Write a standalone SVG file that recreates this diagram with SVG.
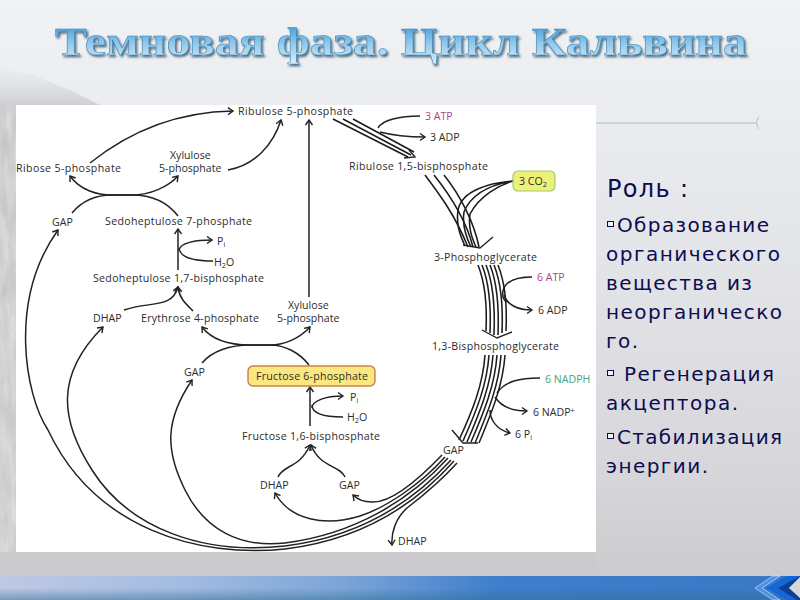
<svg xmlns="http://www.w3.org/2000/svg" width="800" height="600" viewBox="0 0 800 600">
<style>
.l{font-family:"Open Sans","Liberation Sans",Arial,sans-serif;font-size:10.6px;fill:#2c2c2c}
.c{fill:none;stroke:#222;stroke-width:1.5}
.a{marker-end:url(#ah)}
.m{fill:none;stroke:#1c1c1c;stroke-width:1.55}
.h{fill:none;stroke:#222;stroke-width:1.4}
.r{font-family:"DejaVu Sans",Verdana,sans-serif;font-size:20px;fill:#0c0c50}
.b{fill:#f2f2ee;stroke:#0c0c50;stroke-width:1}
</style>
<defs>
<linearGradient id="bg" x1="0" y1="0" x2="0" y2="1"><stop offset="0" stop-color="#f1f2f4"/><stop offset="0.45" stop-color="#e3e4e8"/><stop offset="0.8" stop-color="#d6d6da"/><stop offset="1" stop-color="#c9c9cb"/></linearGradient>
<linearGradient id="tt" x1="0" y1="0" x2="0" y2="1"><stop offset="0" stop-color="#2f92d6"/><stop offset="0.55" stop-color="#94caec"/><stop offset="1" stop-color="#dcecf7"/></linearGradient>
<linearGradient id="bar" x1="0" y1="0" x2="1" y2="0"><stop offset="0" stop-color="#c0c8e4"/><stop offset="0.22" stop-color="#a4bce2"/><stop offset="0.42" stop-color="#7ea6d8"/><stop offset="0.62" stop-color="#3f7ecc"/><stop offset="1" stop-color="#3a78c6"/></linearGradient>
<linearGradient id="barv" x1="0" y1="0" x2="0" y2="1"><stop offset="0.5" stop-color="#2f6f8f" stop-opacity="0"/><stop offset="1" stop-color="#2f6f8f" stop-opacity=".5"/></linearGradient>
<linearGradient id="mt" x1="0" y1="0" x2="0" y2="1"><stop offset="0" stop-color="#c9cbce" stop-opacity=".05"/><stop offset="1" stop-color="#b0b2b5" stop-opacity=".5"/></linearGradient>
<filter id="sh" x="-5%" y="-20%" width="110%" height="150%"><feDropShadow dx="1.5" dy="2" stdDeviation="1" flood-color="#2f5570" flood-opacity=".85"/></filter>
<filter id="mot" x="0" y="0" width="100%" height="100%"><feTurbulence type="fractalNoise" baseFrequency=".12 .03" numOctaves="3" seed="4"/><feColorMatrix values="0 0 0 0 .72 0 0 0 0 .72 0 0 0 0 .73 1.6 0 0 0 -.3"/></filter>
<marker id="ah" markerUnits="userSpaceOnUse" markerWidth="14" markerHeight="14" refX="7" refY="5" orient="auto"><path d="M2,1.5 L7,5 L2,8.5" fill="none" stroke="#222" stroke-width="1.4"/></marker>
</defs>
<g id="background">
<rect width="800" height="600" fill="url(#bg)"/>
<path d="M0,105 L0,68 L30,74 L70,90 L100,105Z" fill="url(#mt)"/>
<rect x="0" y="105" width="16" height="471" fill="#c6c6c8"/>
<rect x="0" y="105" width="16" height="471" filter="url(#mot)"/>
<rect y="552" width="596" height="24" fill="#cbcbcd"/>
<rect x="0" y="576" width="800" height="24" fill="url(#bar)"/>
<rect x="0" y="576" width="800" height="24" fill="url(#barv)"/>
<path d="M773,576 L755,588 L773,600 L780,600 L762,588 L780,576Z" fill="#4a90e8" stroke="#e4effa" stroke-width=".6"/>
<path d="M787,576 L766,588 L787,600 L798,600 L778,588 L800,576Z" fill="#1566d8"/>
<path d="M800,576 L778,588 L797,600 L800,600 L800,598 L789,588 L800,577Z" fill="#0d3f96"/>
<path d="M800,577 L789,588 L800,598Z" fill="#d5d7da"/>
<path d="M596,123 H757" stroke="#b7d1dd" stroke-width="1.5" fill="none"/>
<path d="M759,117 Q754,123 759,129" stroke="#b7d1dd" stroke-width="1.3" fill="none"/>
</g>
<text id="title" x="55" y="55" font-family="'Liberation Serif','Times New Roman',serif" font-weight="700" font-size="39" textLength="692" lengthAdjust="spacingAndGlyphs" fill="url(#tt)" stroke="#3c83b2" stroke-width=".5" filter="url(#sh)">Темновая фаза. Цикл Кальвина</text>
<rect id="panel" x="16" y="105" width="580" height="447" fill="#fff"/>
<g id="connectors">
<path class="c a" d="M90,163 C125,135 170,112 233,111"/>
<path class="c a" d="M228,170 C255,165 273,145 281,120"/>
<path class="c a" d="M72,213 C82,201 95,195 112,195 L132,195 C150,195 168,187 178,176"/>
<path class="c a" d="M178,216 C168,203 152,195 132,195 L112,195 C97,195 80,190 70,176"/>
<path class="c a" d="M178,270 V229"/>
<path class="c a" d="M179,250 C180,243 195,240 212,240"/>
<path class="c" d="M213,261 C195,261 180,258 179,248"/>
<path class="c a" d="M124,310 C150,301 172,309 178,287"/>
<path class="c a" d="M193,311 C186,304 179,298 178,287"/>
<path class="c a" d="M202,363 C212,351 230,345 250,345 L270,345 C285,345 300,338 310,327"/>
<path class="c a" d="M309,365 C300,353 285,345 270,345 L250,345 C230,345 212,340 202,327"/>
<path class="c a" d="M309,297 V120"/>
<path class="c a" d="M310,426 V387"/>
<path class="c a" d="M312,408 C312,401 325,396 343,396"/>
<path class="c" d="M343,417 C325,417 312,414 312,405"/>
<path class="c a" d="M278,477 C283,465 300,468 310,445"/>
<path class="c a" d="M345,477 C340,465 320,468 311,445"/>
<path class="c" d="M420,116 C400,116 382,120 378,128"/>
<path class="c a" d="M380,132 C395,136 410,137 425,137"/>
<path class="m" d="M333,119 L408,157 M343,119 L411,155 M353,119 L414,152"/>
<path class="h" d="M409,150 L415,157 L404,158"/>
<path class="m" d="M425,175 C440,195 455,215 468,247 M434,175 C450,195 466,220 473,247 M444,175 C460,195 474,222 479,247"/>
<path class="m" d="M513,181 C490,183 462,190 458,210 C456,225 460,235 465,246 M513,181 C495,184 472,192 464,212 C462,225 466,237 471,247 M513,181 C500,185 480,195 470,214 C468,228 472,238 476,247"/>
<path class="h" d="M463,245 L480,248 L493,237"/>
<path class="m" d="M478,265 C486,285 487,310 486,331 M482,265 C490,285 491,310 490,333 M486,265 C494,285 495,310 494,335 M490,265 C498,285 499,310 498,335 M494,265 C502,285 503,310 502,333 M498,265 C506,285 507,310 506,331"/>
<path class="h" d="M482,330 L497,338 L512,332"/>
<path class="c" d="M532,277 C515,277 505,282 503,291 C502,298 504,300 507,302"/>
<path class="c a" d="M504,295 C507,305 518,310 532,310"/>
<path class="m" d="M485,355 C483,385 472,412 459,440 M489,355 C487,385 476,412 463,441 M493,355 C491,385 480,412 467,442 M497,355 C495,385 484,412 471,442 M501,355 C499,385 488,412 475,443 M505,355 C503,385 492,412 479,443"/>
<path class="h" d="M452,430 L463,443 L478,443"/>
<path class="c" d="M540,378 C520,378 505,381 497,393"/>
<path class="c a" d="M495,397 C500,405 510,411 527,411"/>
<path class="c a" d="M490,410 C490,420 497,430 510,433"/>
<path class="c a" d="M442,455 C420,478 392,503 372,502 C365,502 358,500 353,495"/>
<path class="c a" d="M445,457 C420,485 385,508 360,516 C325,527 290,520 275,493"/>
<path class="c a" d="M457,463 C440,482 420,498 407,508 C396,518 391,532 392,545"/>
<path class="c a" d="M448,458 C410,500 355,534 285,543 C240,548 205,530 185,490 C165,450 165,420 192,380"/>
<path class="c a" d="M451,460 C412,503 358,537 285,546 C205,555 130,530 92,470 C60,420 55,375 103,327"/>
<path class="c a" d="M454,461 C415,505 360,540 285,549 C200,558 95,530 48,430 C25,395 8,300 58,230"/>
</g>
<g id="n-ribulose5p"><text class="l" x="238" y="115" textLength="115">Ribulose 5-phosphate</text></g>
<g id="n-3atp"><text class="l" x="425" y="120" style="fill:#b0408a">3 ATP</text></g>
<g id="n-3adp"><text class="l" x="430" y="141">3 ADP</text></g>
<g id="n-ribulose15"><text class="l" x="349" y="170" textLength="139">Ribulose 1,5-bisphosphate</text></g>
<g id="n-3co2"><rect x="513" y="171" width="42" height="20" rx="5" fill="#eef07a" stroke="#9ecb6a" stroke-width="1.2"/><text class="l" x="519" y="185">3 CO<tspan font-size="7.5" dy="2">2</tspan></text></g>
<g id="n-3pg"><text class="l" x="434" y="261" textLength="103">3-Phosphoglycerate</text></g>
<g id="n-6atp"><text class="l" x="537" y="281" style="fill:#b0408a">6 ATP</text></g>
<g id="n-6adp"><text class="l" x="538" y="314">6 ADP</text></g>
<g id="n-13bpg"><text class="l" x="432" y="350" textLength="127">1,3-Bisphosphoglycerate</text></g>
<g id="n-nadph"><text class="l" x="545" y="383" style="fill:#4aa080">6 NADPH</text></g>
<g id="n-nadp"><text class="l" x="533" y="416">6 NADP<tspan font-size="7" dy="-3">+</tspan></text></g>
<g id="n-6pi"><text class="l" x="515" y="438">6 P<tspan font-size="7" dy="2">i</tspan></text></g>
<g id="n-gap-main"><text class="l" x="443" y="454">GAP</text></g>
<g id="n-dhap-out"><text class="l" x="398" y="545">DHAP</text></g>
<g id="n-dhap-f"><text class="l" x="260" y="489">DHAP</text></g>
<g id="n-gap-f"><text class="l" x="339" y="489">GAP</text></g>
<g id="n-f16"><text class="l" x="242" y="440" textLength="138">Fructose 1,6-bisphosphate</text></g>
<g id="n-h2o-f"><text class="l" x="347" y="421">H<tspan font-size="7.5" dy="2">2</tspan><tspan dy="-2">O</tspan></text></g>
<g id="n-pi-f"><text class="l" x="350" y="401">P<tspan font-size="7" dy="2">i</tspan></text></g>
<g id="n-f6p"><rect x="248" y="366" width="127" height="20" rx="5" fill="#fbe77f" stroke="#c8824a" stroke-width="1.4"/><text class="l" x="256" y="380" textLength="112">Fructose 6-phosphate</text></g>
<g id="n-gap-e"><text class="l" x="184" y="376">GAP</text></g>
<g id="n-dhap-s"><text class="l" x="93" y="322">DHAP</text></g>
<g id="n-e4p"><text class="l" x="141" y="322" textLength="118">Erythrose 4-phosphate</text></g>
<g id="n-xu5p-2"><text class="l" x="288" y="309">Xylulose</text><text class="l" x="277" y="322">5-phosphate</text></g>
<g id="n-s17"><text class="l" x="93" y="282" textLength="171">Sedoheptulose 1,7-bisphosphate</text></g>
<g id="n-h2o-s"><text class="l" x="214" y="266">H<tspan font-size="7.5" dy="2">2</tspan><tspan dy="-2">O</tspan></text></g>
<g id="n-pi-s"><text class="l" x="217" y="245">P<tspan font-size="7" dy="2">i</tspan></text></g>
<g id="n-s7p"><text class="l" x="105" y="225" textLength="147">Sedoheptulose 7-phosphate</text></g>
<g id="n-gap-r"><text class="l" x="52" y="226">GAP</text></g>
<g id="n-r5p"><text class="l" x="16" y="172" textLength="105">Ribose 5-phosphate</text></g>
<g id="n-xu5p-1"><text class="l" x="170" y="159">Xylulose</text><text class="l" x="159" y="172">5-phosphate</text></g>
<g id="role">
<text class="r" x="607" y="197" style="font-size:24px" textLength="81">Роль :</text>
<rect class="b" x="607.5" y="221.5" width="6" height="5"/>
<text class="r" x="617" y="232" textLength="152">Образование</text>
<text class="r" x="606" y="261" textLength="174">органического</text>
<text class="r" x="606" y="290" textLength="146">вещества из</text>
<text class="r" x="606" y="319" textLength="176">неорганическо</text>
<text class="r" x="606" y="348" textLength="32">го.</text>
<rect class="b" x="607.5" y="370.5" width="6" height="5"/>
<text class="r" x="624" y="381" textLength="150">Регенерация</text>
<text class="r" x="606" y="410" textLength="132">акцептора.</text>
<rect class="b" x="607.5" y="433.5" width="6" height="5"/>
<text class="r" x="617" y="444" textLength="165">Стабилизация</text>
<text class="r" x="606" y="473" textLength="102">энергии.</text>
</g>
</svg>
